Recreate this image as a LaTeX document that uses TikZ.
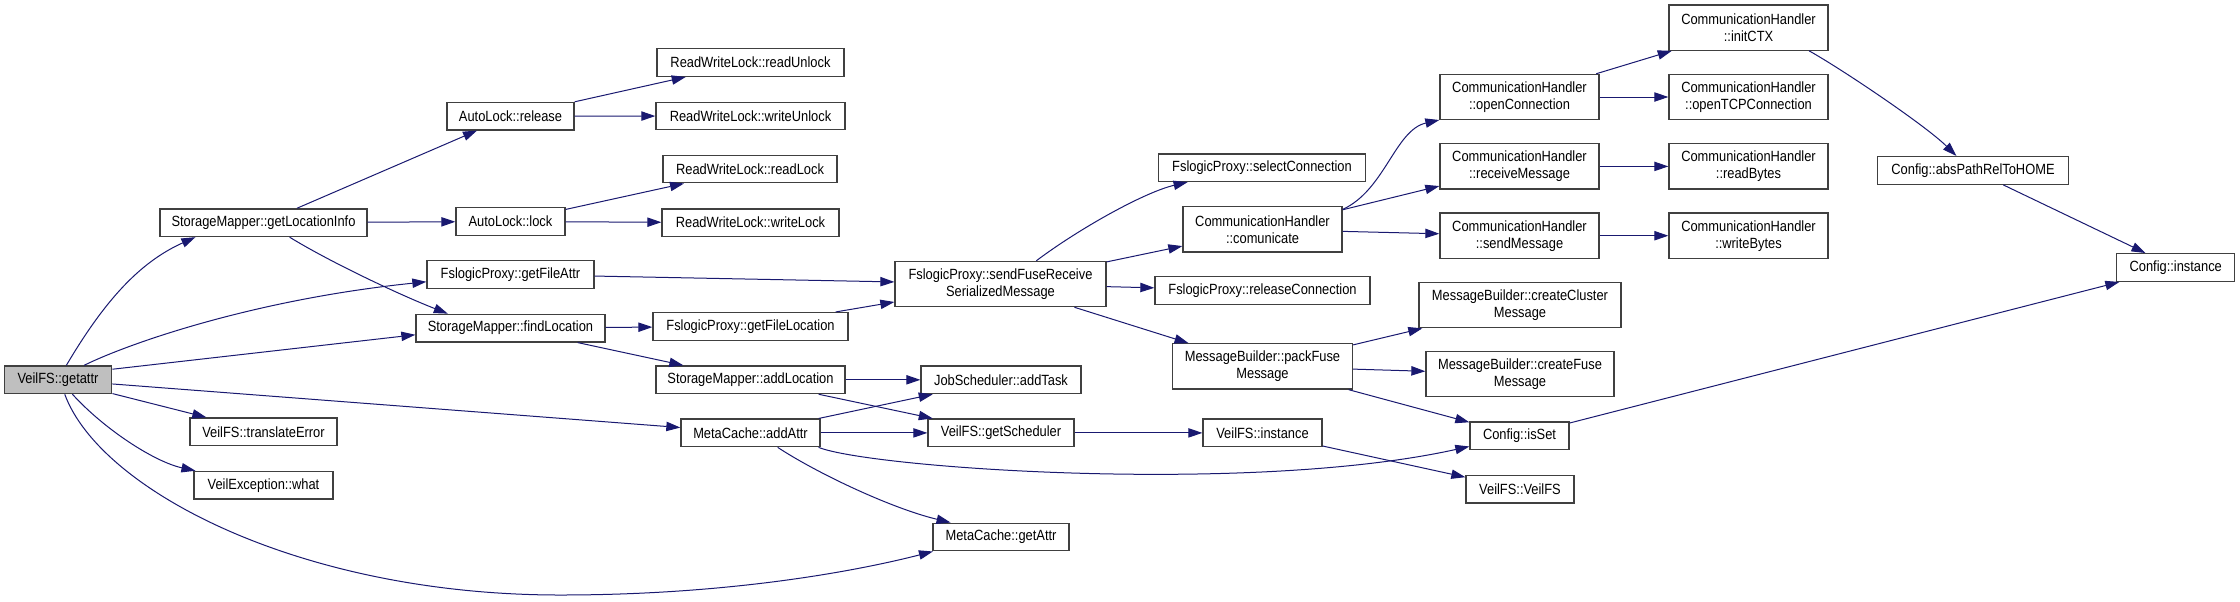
\documentclass[tikz,border=0pt]{standalone}
\usepackage{fontspec}
\setmainfont{Liberation Sans}
\newfontfamily\dotfont{Liberation Sans}[FakeStretch=0.87]
\usetikzlibrary{arrows.meta}
\definecolor{edgeblue}{RGB}{25,25,112}
\definecolor{rootgray}{RGB}{191,191,191}

\begin{document}
\begin{tikzpicture}[x=0.75pt,y=-0.75pt,>={Triangle[length=10.5pt,width=7pt]}]
  \tikzset{
    fn/.style={draw=black!75,line width=1pt,fill=white,inner sep=0pt,align=center,
               minimum height=27.6*0.75pt,font=\dotfont\fontsize{11.1}{12.7}\selectfont},
    two/.style={minimum height=45.2*0.75pt},
    bw/.style={minimum width=#1*0.75pt},
    call/.style={->,draw=edgeblue,line width=0.75pt}
  }
  \useasboundingbox[fill=white] (0,0) rectangle (2240,601);
  % callers, left to right
  \node[fn,bw=107.5,fill=rootgray] (getattr) at (58,379.8) {VeilFS::getattr};
  \node[fn,bw=207] (glinfo) at (263.5,222.7) {StorageMapper::getLocationInfo};
  \node[fn,bw=147] (translateError) at (263.5,431.8) {VeilFS::translateError};
  \node[fn,bw=139] (what) at (263.5,485.2) {VeilException::what};
  \node[fn,bw=127] (release) at (510.5,116.1) {AutoLock::release};
  \node[fn,bw=109] (lock) at (510.5,221.5) {AutoLock::lock};
  \node[fn,bw=167] (getFileAttr) at (510.5,274.4) {FslogicProxy::getFileAttr};
  \node[fn,bw=189] (findLocation) at (510.5,328.1) {StorageMapper::findLocation};
  \node[fn,bw=187] (readUnlock) at (750.5,62.5) {ReadWriteLock::readUnlock};
  \node[fn,bw=189] (writeUnlock) at (750.5,116) {ReadWriteLock::writeUnlock};
  \node[fn,bw=174] (readLock) at (750,169) {ReadWriteLock::readLock};
  \node[fn,bw=177] (writeLock) at (750.5,222.7) {ReadWriteLock::writeLock};
  \node[fn,bw=195] (getFileLocation) at (750.5,326.4) {FslogicProxy::getFileLocation};
  \node[fn,bw=189] (addLocation) at (750.5,379.8) {StorageMapper::addLocation};
  \node[fn,bw=139] (addAttr) at (750.5,432.9) {MetaCache::addAttr};
  \node[fn,two,bw=211] (sendFuse) at (1000.5,284) {FslogicProxy::sendFuseReceive\\SerializedMessage};
  \node[fn,bw=160] (addTask) at (1001,379.8) {JobScheduler::addTask};
  \node[fn,bw=146] (getScheduler) at (1001,432.9) {VeilFS::getScheduler};
  \node[fn,bw=136] (getAttr) at (1001,537) {MetaCache::getAttr};
  \node[fn,bw=207] (selectConn) at (1262,167.7) {FslogicProxy::selectConnection};
  \node[fn,two,bw=159] (comunicate) at (1262.5,229.4) {CommunicationHandler\\::comunicate};
  \node[fn,bw=215] (releaseConn) at (1262.5,290.5) {FslogicProxy::releaseConnection};
  \node[fn,two,bw=180] (packFuse) at (1262.5,366.4) {MessageBuilder::packFuse\\Message};
  \node[fn,bw=119] (vinstance) at (1262.5,432.9) {VeilFS::instance};
  \node[fn,two,bw=159] (openConn) at (1519.5,97) {CommunicationHandler\\::openConnection};
  \node[fn,two,bw=159] (receiveMsg) at (1519.5,166.4) {CommunicationHandler\\::receiveMessage};
  \node[fn,two,bw=159] (sendMsg) at (1519.5,235.7) {CommunicationHandler\\::sendMessage};
  \node[fn,two,bw=202] (createCluster) at (1520,305.1) {MessageBuilder::createCluster\\Message};
  \node[fn,two,bw=188] (createFuse) at (1520,374.1) {MessageBuilder::createFuse\\Message};
  \node[fn,bw=99] (isSet) at (1519.5,435.8) {Config::isSet};
  \node[fn,bw=108] (veilfsCtor) at (1520,489.1) {VeilFS::VeilFS};
  \node[fn,two,bw=159] (initCTX) at (1748.5,27.6) {CommunicationHandler\\::initCTX};
  \node[fn,two,bw=159] (openTCP) at (1748.5,97) {CommunicationHandler\\::openTCPConnection};
  \node[fn,two,bw=159] (readBytes) at (1748.5,166.4) {CommunicationHandler\\::readBytes};
  \node[fn,two,bw=159] (writeBytes) at (1748.5,235.7) {CommunicationHandler\\::writeBytes};
  \node[fn,bw=191] (absPath) at (1973,170.4) {Config::absPathRelToHOME};
  \node[fn,bw=118] (cinstance) at (2175.7,267.5) {Config::instance};
  % calls
  \draw[call] (getattr.60) .. controls (105,300) and (140,262) .. (glinfo.192.6);
  \draw[call] (getattr.29.8) .. controls (125,345) and (250,300) .. (getFileAttr.185.5);
  \draw[call] (getattr.11.2) -- (findLocation.184);
  \draw[call] (getattr) -- (addAttr);
  \draw[call] (getattr) -- (translateError);
  \draw[call] (getattr.-45.8) .. controls (105,430) and (155,462) .. (what.168.2);
  \draw[call] (getattr.-65.5) .. controls (100,490) and (300,595) .. (560,595)
              .. controls (750,595) and (880,565) .. (getAttr.192.5);
  \draw[call] (glinfo) -- (release);
  \draw[call] (glinfo) -- (lock);
  \draw[call] (glinfo.-29.9) .. controls (330,262) and (400,295) .. (findLocation.167.9);
  \draw[call] (release) -- (readUnlock);
  \draw[call] (release) -- (writeUnlock);
  \draw[call] (lock) -- (readLock);
  \draw[call] (lock) -- (writeLock);
  \draw[call] (getFileAttr) -- (sendFuse);
  \draw[call] (findLocation) -- (getFileLocation);
  \draw[call] (findLocation) -- (addLocation);
  \draw[call] (getFileLocation) -- (sendFuse);
  \draw[call] (addLocation) -- (addTask);
  \draw[call] (addLocation) -- (getScheduler);
  \draw[call] (addAttr) -- (addTask);
  \draw[call] (addAttr) -- (getScheduler);
  \draw[call] (addAttr.-28.7) .. controls (815,472) and (890,508) .. (getAttr.164.6);
  \draw[call] (addAttr.-12.5) .. controls (870,468) and (1250,495) .. (isSet.192.3);
  \draw[call] (sendFuse.33.2) .. controls (1080,228) and (1145,192) .. (selectConn.191.5);
  \draw[call] (sendFuse) -- (comunicate);
  \draw[call] (sendFuse) -- (releaseConn);
  \draw[call] (sendFuse) -- (packFuse);
  \draw[call] (comunicate.14) .. controls (1385,190) and (1395,130) .. (openConn.196);
  \draw[call] (comunicate) -- (receiveMsg);
  \draw[call] (comunicate) -- (sendMsg);
  \draw[call] (openConn) -- (initCTX);
  \draw[call] (openConn) -- (openTCP);
  \draw[call] (receiveMsg) -- (readBytes);
  \draw[call] (sendMsg) -- (writeBytes);
  \draw[call] (packFuse) -- (createCluster);
  \draw[call] (packFuse) -- (createFuse);
  \draw[call] (packFuse) -- (isSet);
  \draw[call] (getScheduler) -- (vinstance);
  \draw[call] (vinstance) -- (veilfsCtor);
  \draw[call] (isSet) -- (cinstance);
  \draw[call] (initCTX.-21.2) .. controls (1840,68) and (1925,125) .. (absPath.139.2);
  \draw[call] (absPath) -- (cinstance);
\end{tikzpicture}
\end{document}
